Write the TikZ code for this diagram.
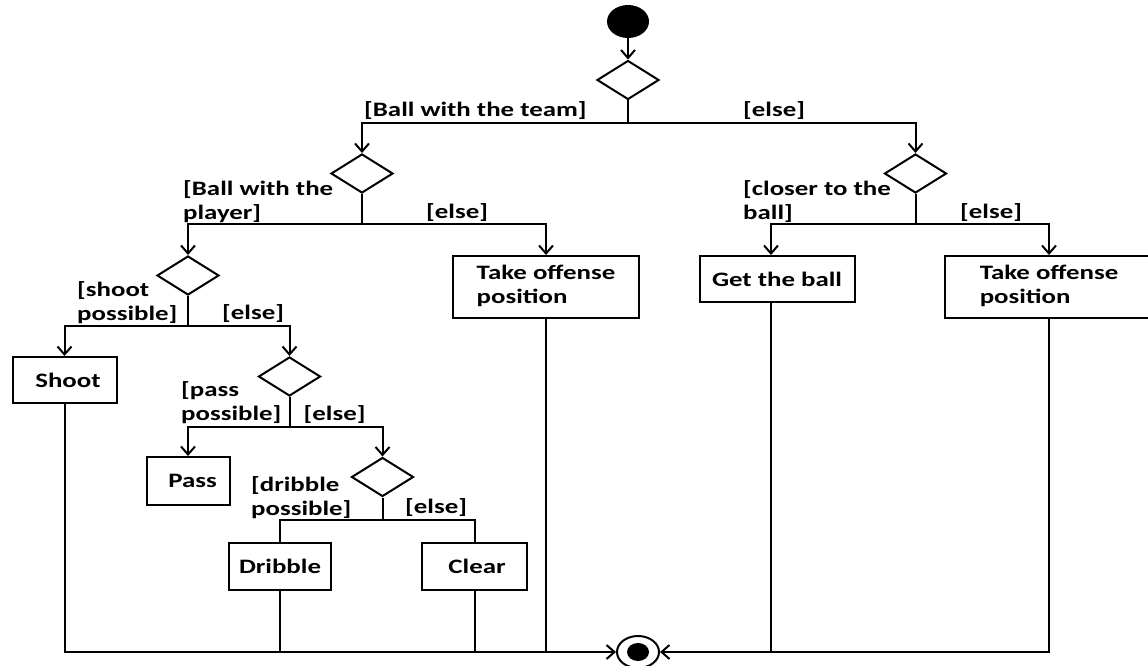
\documentclass[tikz,border=0pt]{standalone}
\usepackage{fontspec}
\usepackage{graphicx}
\setmainfont{Carlito}
\usetikzlibrary{shapes.geometric,arrows.meta}
\newcommand{\hsx}[1]{\scalebox{1.31}[1]{#1}}
\newcommand{\twoline}[1]{\hsx{\begin{tabular}[t]{@{}l@{}}#1\end{tabular}}}
\begin{document}
\begin{tikzpicture}[x=1pt,y=-1pt,
  every node/.style={font=\fontsize{20.5}{23.5}\selectfont\bfseries},
  ln/.style={line width=2pt},
  arr/.style={ln,-{Straight Barb[length=8pt,width=14pt]}},
  dec/.style={diamond,draw,line width=2pt,minimum width=62pt,minimum height=39pt,inner sep=0pt},
  act/.style={rectangle,draw,line width=2pt,inner sep=0pt,align=center},
  lab/.style={anchor=base west,inner sep=0pt}]
\useasboundingbox (0,0) rectangle (1148,666);
\clip (0,0) rectangle (1148,666);
% nodes
\node[ellipse,fill=black,minimum width=42pt,minimum height=33pt,inner sep=0pt] (start) at (628,21.5) {};
\node[dec] (d1) at (628,80) {};
\node[dec] (d2) at (362,173.5) {};
\node[dec] (d3) at (188,275.5) {};
\node[dec] (d4) at (289.5,376.5) {};
\node[dec] (d5) at (382.5,477) {};
\node[dec] (d6) at (915.5,173.5) {};
\node[act,minimum width=104pt,minimum height=46pt] (shoot) at (64.5,380) {\hspace*{7pt}\hsx{Shoot}};
\node[act,minimum width=83pt,minimum height=48pt] (pass) at (188,481) {\hspace*{9pt}\hsx{Pass}};
\node[act,minimum width=102pt,minimum height=47pt] (dribble) at (280,566.5) {\hsx{Dribble}};
\node[act,minimum width=105pt,minimum height=47pt] (clear) at (474.5,566.5) {\hspace*{5pt}\hsx{Clear}};
\node[act,minimum width=186pt,minimum height=62pt] (to1) at (546,287) {\hsx{\begin{tabular}{@{}l@{}}Take offense\\position\end{tabular}}};
\node[act,minimum width=155pt,minimum height=46pt] (get) at (777,279) {\hsx{Get the ball}};
\node[act,minimum width=208pt,minimum height=62pt] (to2) at (1049,287) {\hsx{\begin{tabular}{@{}l@{}}Take offense\\position\end{tabular}}};
% connectors
\draw[arr] (start) -- (d1.north);
\coordinate (j1) at (628,123);
\draw[ln] (d1.south) -- (j1);
\draw[arr] (j1) -| (d2.north);
\draw[arr] (j1) -| (d6.north);
\coordinate (j2) at (362,224);
\draw[ln] (d2.south) -- (j2);
\draw[arr] (j2) -| (d3.north);
\draw[arr] (j2) -| (to1.north);
\coordinate (j6) at (915.5,224);
\draw[ln] (d6.south) -- (j6);
\coordinate (gx) at (771,0);
\draw[arr] (j6) -| (gx |- get.north);
\draw[arr] (j6) -| (to2.north);
\coordinate (j3) at (188,325.7);
\draw[ln] (d3.south) -- (j3);
\draw[arr] (j3) -| (shoot.north);
\draw[arr] (j3) -| (d4.north);
\coordinate (j4) at (289.5,426.7);
\draw[ln] (d4.south) -- (j4);
\draw[arr] (j4) -| (pass.north);
\draw[arr] (j4) -| (d5.north);
\coordinate (j5) at (382.5,520);
\draw[ln] (d5.south) -- (j5);
\draw[ln] (j5) -| (dribble.north);
\draw[ln] (j5) -| (clear.north);
% final
\node[ellipse,draw,fill=white,line width=2pt,minimum width=42pt,minimum height=32pt,inner sep=0pt] (fin) at (638,652) {};
\fill (fin.center) ellipse [x radius=11pt,y radius=9pt];
\draw[arr] (shoot.south) |- (fin.west);
\draw[ln] (dribble.south) -- (dribble.south |- fin.center);
\draw[ln] (clear.south) -- (clear.south |- fin.center);
\draw[ln] (to1.south) -- (to1.south |- fin.center);
\draw[ln] (gx |- get.south) -- (gx |- fin.center);
\draw[arr] (to2.south) |- (fin.east);
% labels
\node[lab] (l1) at (364,116.5) {\hsx{[Ball with the team]}};
\node[lab] (l2) at (743,116.5) {\hsx{[else]}};
\node[lab] (l3) at (183,195.5) {\twoline{[Ball with the\\player]}};
\node[lab] (l4) at (426,218.5) {\hsx{[else]}};
\node[lab] (l5) at (743,195.5) {\twoline{[closer to the\\ball]}};
\node[lab] (l6) at (960,218.5) {\hsx{[else]}};
\node[lab] (l7) at (77,296.5) {\twoline{[shoot\\possible]}};
\node[lab] (l8) at (222,319.5) {\hsx{[else]}};
\node[lab] (l9) at (181,396.5) {\twoline{[pass\\possible]}};
\node[lab] (l10) at (303.5,420.5) {\hsx{[else]}};
\node[lab] (l11) at (251,491.5) {\twoline{[dribble\\possible]}};
\node[lab] (l12) at (405,513.5) {\hsx{[else]}};
\end{tikzpicture}
\end{document}
